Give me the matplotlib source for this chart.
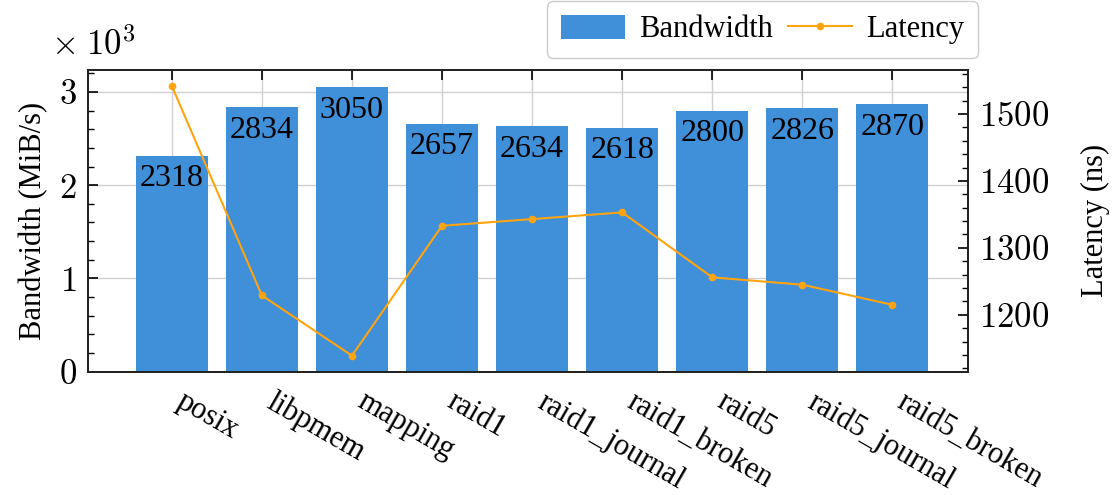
import matplotlib
matplotlib.use("Agg")
import matplotlib.pyplot as plt
from matplotlib.ticker import FuncFormatter, MultipleLocator

plt.rcParams["font.family"] = ["Liberation Serif", "DejaVu Serif"]
plt.rcParams["mathtext.fontset"] = "cm"

# Benchmark results per storage backend
backends = ["posix", "libpmem", "mapping", "raid1", "raid1_journal",
            "raid1_broken", "raid5", "raid5_journal", "raid5_broken"]
bandwidth_mib_s = [2318, 2834, 3050, 2657, 2634, 2618, 2800, 2826, 2870]
latency_ns = [1542, 1229, 1139, 1333, 1343, 1353, 1256, 1245, 1215]

bar_color = "#3f8fd9"
line_color = "#ffa40f"

fig = plt.figure(figsize=(11.14, 4.95), dpi=100)
ax = fig.add_axes([0.079, 0.249, 0.790, 0.610])
ax2 = ax.twinx()

x = list(range(len(backends)))
bars = ax.bar(x, bandwidth_mib_s, width=0.8, color=bar_color, zorder=2,
              label="Bandwidth")
ax.bar_label(bars, labels=[str(v) for v in bandwidth_mib_s], padding=-27,
             fontsize=23, color="black", zorder=3)

line, = ax2.plot(x, latency_ns, color=line_color, lw=1.5, marker="o",
                 markersize=4.5, label="Latency", zorder=4)

ax.set_xlim(-0.93, 8.84)
ax.set_ylim(0, 3237)
ax2.set_ylim(1115, 1566)

ax.set_xticks(x)
ax.set_xticklabels(backends, rotation=-30, ha="left", fontsize=22)
ax.yaxis.set_major_locator(MultipleLocator(1000))
ax.yaxis.set_minor_locator(MultipleLocator(200))
ax.yaxis.set_major_formatter(FuncFormatter(lambda v, p: rf"${v/1000:g}$"))
ax2.yaxis.set_major_locator(MultipleLocator(100))
ax2.yaxis.set_minor_locator(MultipleLocator(20))
ax2.yaxis.set_major_formatter(FuncFormatter(lambda v, p: rf"${v:g}$"))

ax.tick_params(axis="x", which="major", direction="in", top=True, length=7,
               width=1.2, pad=11)
ax.tick_params(axis="y", which="major", direction="in", length=7, width=1.2,
               labelsize=25, right=False, pad=8)
ax.tick_params(axis="y", which="minor", direction="in", length=4, width=1.0,
               right=False)
ax2.tick_params(axis="y", which="major", direction="in", length=7, width=1.2,
                labelsize=25, pad=8)
ax2.tick_params(axis="y", which="minor", direction="in", length=4, width=1.0)

ax.grid(True, which="major", color="#d0d0d0", lw=1.0, zorder=0)
ax.set_axisbelow(True)

for a in (ax, ax2):
    for s in a.spines.values():
        s.set_linewidth(1.3)
        s.set_color("#222222")

ax.set_ylabel("Bandwidth (MiB/s)", fontsize=22, labelpad=8)
ax2.set_ylabel("Latency (ns)", fontsize=22, labelpad=23)
ax.text(-0.042, 1.022, r"$\times\;10^{3}$", transform=ax.transAxes,
        fontsize=25, ha="left", va="bottom")

leg = ax.legend([bars, line], ["Bandwidth", "Latency"], ncol=2, fontsize=22,
                loc="lower right", bbox_to_anchor=(1.018, 1.018),
                frameon=True, fancybox=True, edgecolor="#c0c0c0",
                handlelength=2.1, handleheight=0.8, handletextpad=0.45,
                columnspacing=0.5, borderpad=0.45, borderaxespad=0.2)
leg.get_frame().set_linewidth(1.0)

fig.savefig("out.png", dpi=100)
